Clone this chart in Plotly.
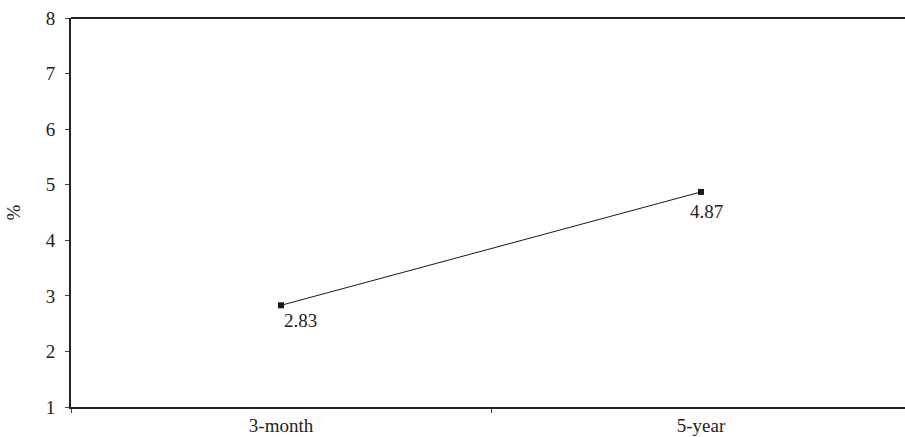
import plotly.graph_objects as go

categories = ["3-month", "5-year"]
values = [2.83, 4.87]
labels = ["2.83", "4.87"]
label_xshift = [19, 5]
label_yshift = [-15, -20]
y_ticks = [1, 2, 3, 4, 5, 6, 7, 8]

FONT = "Liberation Serif, Times New Roman, serif"
FS = 19

fig = go.Figure()
fig.add_trace(go.Scatter(
    x=categories, y=values, mode="lines+markers",
    line=dict(color="#1a1a1a", width=1),
    marker=dict(symbol="square", size=6, color="#1a1a1a"),
    showlegend=False, hoverinfo="skip",
))

for c, v, t, dx, dy in zip(categories, values, labels, label_xshift, label_yshift):
    fig.add_annotation(x=c, y=v, text=t, showarrow=False, xshift=dx, yshift=dy,
                       font=dict(family=FONT, size=FS, color="#222"))

fig.add_shape(type="line", xref="paper", yref="paper", x0=0, x1=1, y0=1, y1=1,
              line=dict(color="#222", width=2))

fig.update_layout(
    width=905, height=437,
    margin=dict(l=71, r=0, t=18, b=30, autoexpand=False),
    paper_bgcolor="white", plot_bgcolor="white",
    font=dict(family=FONT, size=FS, color="#222"),
    xaxis=dict(
        type="category", range=[-0.5, 1.4857],
        showgrid=False, zeroline=False,
        showline=True, linecolor="#222", linewidth=1.5,
        ticks="outside", ticklen=4, tickcolor="#444", tickwidth=1,
        tickson="boundaries",
        ticklabelstandoff=0,
        tickfont=dict(family=FONT, size=FS, color="#222"),
    ),
    yaxis=dict(
        range=[1, 8], tickvals=y_ticks,
        showgrid=False, zeroline=False,
        showline=True, linecolor="#222", linewidth=2,
        ticks="outside", ticklen=4, tickcolor="#444", tickwidth=1,
        tickfont=dict(family=FONT, size=FS, color="#222"),
        ticklabelstandoff=6,
        title=dict(text="%", font=dict(family=FONT, size=FS, color="#222"), standoff=20),
    ),
)

fig.write_html("out.html", config={"displayModeBar": False},
               post_script="document.body.style.margin='0';document.body.style.overflow='hidden';")
